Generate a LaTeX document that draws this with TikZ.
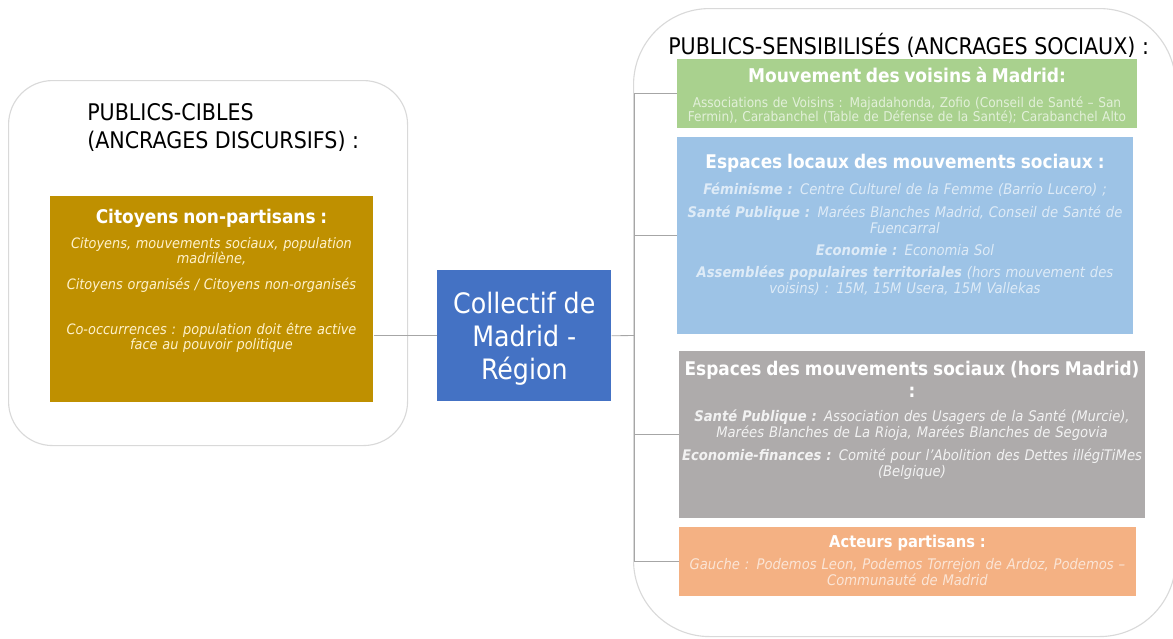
\documentclass[tikz,border=0pt]{standalone}
\usepackage{fontspec}
\setmainfont{DejaVuSansCondensed}[Extension=.ttf,
  BoldFont=DejaVuSansCondensed-Bold,
  ItalicFont=DejaVuSansCondensed-Oblique,
  BoldItalicFont=DejaVuSansCondensed-BoldOblique]
\usepackage{xcolor}
\usepackage{tikz}

\definecolor{framegray}{HTML}{D9D9D9}
\definecolor{linkgray}{HTML}{A6A6A6}
\definecolor{goldbg}{HTML}{BF9000}
\definecolor{goldtxt}{HTML}{FFF2CC}
\definecolor{collblue}{HTML}{4472C4}
\definecolor{greenbg}{HTML}{A9D18E}
\definecolor{greentxt}{HTML}{E2F0D9}
\definecolor{bluebg}{HTML}{9DC3E6}
\definecolor{bluetxt}{HTML}{DEEBF7}
\definecolor{graybg}{HTML}{AEABAB}
\definecolor{graytxt}{HTML}{F2F2F2}
\definecolor{orangebg}{HTML}{F4B183}
\definecolor{orangetxt}{HTML}{FBE5D6}

\newcommand{\pxu}{0.025cm}

\tikzset{
  frame/.style={draw=framegray, line width=0.8pt, inner sep=0pt, anchor=north west},
  colbox/.style={anchor=north west, inner sep=0pt},
  boxtext/.style={anchor=north, align=center, inner sep=0pt, text width=500*\pxu},
  link/.style={draw=linkgray, line width=0.6pt},
}

\begin{document}
\begin{tikzpicture}[x=0.025cm, y=-0.025cm]
  \useasboundingbox (0,0) rectangle (1173,639);

  % the two groups of publics
  \node[frame, rounded corners=1.1cm, minimum width=399*\pxu, minimum height=365*\pxu] (cibles) at (8,80) {};
  \node[frame, rounded corners=1.9cm, minimum width=542*\pxu, minimum height=628*\pxu] (sensib) at (633,8) {};

  \node[anchor=north west, align=left, inner sep=0pt, font=\fontsize{16.3}{20}\selectfont] (cibles-t) at (87,103.5)
    {PUBLICS-CIBLES\\(ANCRAGES DISCURSIFS) :};
  \node[anchor=west, inner sep=0pt, font=\fontsize{16.3}{20}\selectfont] (sensib-t) at (668,45)
    {PUBLICS-SENSIBILISÉS (ANCRAGES SOCIAUX) :};

  % left box
  \node[colbox, fill=goldbg, minimum width=323*\pxu, minimum height=206*\pxu] (cit) at (50,196) {};
  \node[boxtext, text width=320*\pxu, text=goldtxt, font=\fontsize{10.2}{10.5}\selectfont\itshape] (cit-t) at (211.5,209)
    {{\upshape\bfseries\color{white}\fontsize{13.4}{14}\selectfont Citoyens non-partisans :}\\[6pt]
     Citoyens, mouvements sociaux, population\\ madrilène,\\[8pt]
     Citoyens organisés / Citoyens non-organisés\\[22pt]
     Co-occurrences : population doit être active\\ face au pouvoir politique};

  % centre
  \node[colbox, fill=collblue, minimum width=174*\pxu, minimum height=131*\pxu, align=center, text=white,
        text depth=0pt, font=\fontsize{20}{23.5}\selectfont] (coll) at (437,270) {Collectif de\\Madrid -\\Région};

  % right boxes
  \node[colbox, fill=greenbg, minimum width=460*\pxu, minimum height=69*\pxu] (voisins) at (677,59) {};
  \node[boxtext, text=greentxt, font=\fontsize{9.6}{10}\selectfont] (voisins-t) at (907,67)
    {{\bfseries\color{white}\fontsize{13.5}{14}\selectfont Mouvement des voisins à Madrid:}\\[7.6pt]
     Associations de Voisins : Majadahonda, Zofio (Conseil de Santé – San\\
     Fermin), Carabanchel (Table de Défense de la Santé); Carabanchel Alto};

  \node[colbox, fill=bluebg, minimum width=456*\pxu, minimum height=197*\pxu] (locaux) at (677,137) {};
  \node[boxtext, text=bluetxt, font=\fontsize{10.4}{11.4}\selectfont\itshape] (locaux-t) at (905,153.5)
    {{\upshape\bfseries\color{white}\fontsize{13.4}{14}\selectfont Espaces locaux des mouvements sociaux :}\\[7.6pt]
     \textbf{Féminisme :} Centre Culturel de la Femme (Barrio Lucero) ;\\[4.6pt]
     \textbf{Santé Publique :} Marées Blanches Madrid, Conseil de Santé de\\ Fuencarral\\[4.3pt]
     \textbf{Economie :} Economia Sol\\[4.3pt]
     \textbf{Assemblées populaires territoriales} (hors mouvement des\\ voisins) : 15M, 15M Usera, 15M Vallekas};

  \node[colbox, fill=graybg, minimum width=466*\pxu, minimum height=167*\pxu] (horsmad) at (679,351) {};
  \node[boxtext, text=graytxt, font=\fontsize{10.4}{11.4}\selectfont\itshape] (horsmad-t) at (912,360.5)
    {{\upshape\bfseries\color{white}\fontsize{13.4}{14}\selectfont Espaces des mouvements sociaux (hors Madrid)\\[4.3pt] :}\\[6pt]
     \textbf{Santé Publique :} Association des Usagers de la Santé (Murcie),\\
     Marées Blanches de La Rioja, Marées Blanches de Segovia\\[5pt]
     \textbf{Economie-finances :} Comité pour l’Abolition des Dettes illégiTiMes\\ (Belgique)};

  \node[colbox, fill=orangebg, minimum width=457*\pxu, minimum height=69*\pxu] (partis) at (679,527) {};
  \node[boxtext, text=orangetxt, font=\fontsize{10.4}{11.4}\selectfont\itshape] (partis-t) at (907.5,535)
    {{\upshape\bfseries\color{white}\fontsize{11.6}{12}\selectfont Acteurs partisans :}\\[4.3pt]
     Gauche : Podemos Leon, Podemos Torrejon de Ardoz, Podemos –\\ Communauté de Madrid};

  % connectors
  \coordinate (fork) at (634,335.5);
  \draw[link] (cit.east |- coll.west) -- (coll.west);
  \draw[link] (coll.east) -- (fork);
  \foreach \b in {voisins,locaux,horsmad,partis}
    \draw[link] (fork) |- (\b.west);
\end{tikzpicture}
\end{document}
